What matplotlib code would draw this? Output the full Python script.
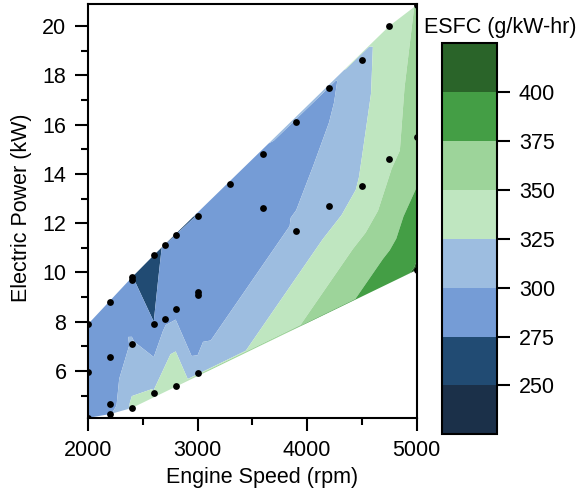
import numpy as np
import matplotlib
matplotlib.use('Agg')
import matplotlib.pyplot as plt
import matplotlib.tri as mtri
from matplotlib.ticker import MultipleLocator

plt.rcParams['font.family'] = ['Liberation Sans', 'DejaVu Sans']

# engine test points (rpm, kW) and measured ESFC (g/kW-hr)
speed = [2000, 2000, 2000, 2200, 2200, 2200, 2200, 2400, 2400, 2400,
         2400, 2600, 2600, 2600, 2700, 2700, 2800, 2800, 2800, 3000,
         3000, 3000, 3000, 3300, 3600, 3600, 3900, 3900, 4200, 4200,
         4500, 4500, 4750, 4750, 5000, 5000, 5000]
power = [4.1, 5.95, 7.9, 4.25, 4.65, 6.55, 8.8, 4.5, 7.1, 9.7,
         9.8, 5.1, 7.9, 10.7, 8.1, 11.1, 5.4, 8.5, 11.5, 5.9,
         9.1, 9.2, 12.3, 13.6, 12.6, 14.8, 11.7, 16.1, 12.7, 17.5,
         13.5, 18.6, 14.6, 20.0, 10.1, 15.5, 20.85]
esfc = [290, 288, 285, 297, 287, 278, 285, 330, 303, 276,
        276, 327, 275.5, 262, 295, 280, 352, 292, 283, 303,
        290, 289, 285, 285, 288, 285, 303, 287, 312, 295,
        328, 315, 345, 340, 403, 358, 351]

levels = [225, 250, 275, 300, 325, 350, 375, 400, 425]
cbar_ticks = [250, 275, 300, 325, 350, 375, 400]
colors = ['#1b3049', '#214b73', '#759cd6', '#9dbde0',
          '#bfe6c0', '#9dd49a', '#449e45', '#2a6429']

x = np.array(speed, dtype=float)
y = np.array(power, dtype=float)
z = np.array(esfc, dtype=float)

# delaunay on the raw (rpm, kW) values
tri = mtri.Triangulation(x, y)

fig = plt.figure(figsize=(5.86, 4.95), dpi=100)
ax = fig.add_axes([0.1502, 0.1549, 0.5609, 0.8364])
cax = fig.add_axes([0.7538, 0.1226, 0.0949, 0.7899])

cs = ax.tricontourf(tri, z, levels=levels, colors=colors, antialiased=True)
ax.scatter(x, y, s=24, color='black', zorder=3, linewidths=0)

ax.set_xlim(2000, 5000)
ax.set_ylim(4.08, 20.88)
ax.xaxis.set_major_locator(MultipleLocator(1000))
ax.xaxis.set_minor_locator(MultipleLocator(500))
ax.yaxis.set_major_locator(MultipleLocator(2))
ax.yaxis.set_minor_locator(MultipleLocator(1))
ax.set_yticks([6, 8, 10, 12, 14, 16, 18, 20])

fs = 15.5
for a in (ax, cax):
    for sp in a.spines.values():
        sp.set_linewidth(1.5)
ax.tick_params(which='major', direction='out', length=9.5, width=1.5,
               labelsize=fs, pad=6)
ax.tick_params(which='minor', direction='out', length=4.8, width=1.5)

ax.set_xlabel('Engine Speed (rpm)', fontsize=fs)
ax.set_ylabel('Electric Power (kW)', fontsize=fs)
ax.xaxis.set_label_coords(0.531, -0.144)
ax.yaxis.set_label_coords(-0.201, 0.508)
ax.xaxis.label.set_va('center')
ax.yaxis.label.set_va('center')

cb = fig.colorbar(cs, cax=cax, ticks=cbar_ticks)
cb.outline.set_linewidth(1.5)
cax.tick_params(direction='out', length=9.5, width=1.5, labelsize=fs, pad=6)
cax.minorticks_off()

fig.text(424 / 586, 1 - 27 / 495, 'ESFC (g/kW-hr)', fontsize=fs,
         ha='left', va='center')

fig.savefig('out.png', dpi=100)
